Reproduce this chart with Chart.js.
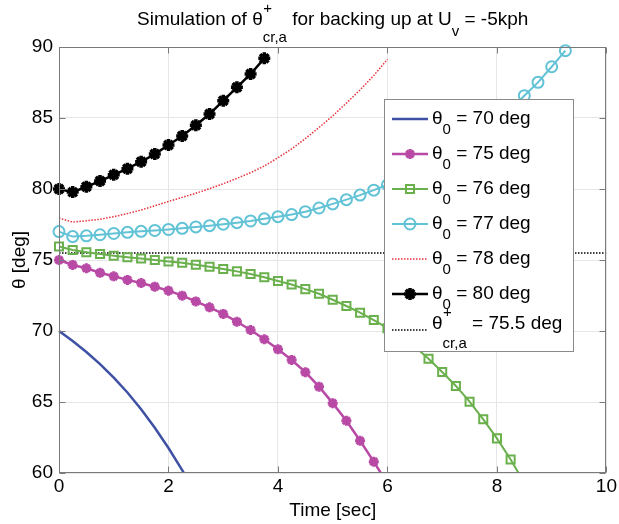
<!DOCTYPE html>
<html>
<head>
<meta charset="utf-8">
<script src="https://cdn.jsdelivr.net/npm/chart.js@4/dist/chart.umd.min.js"></script>
<style>
  html, body { margin: 0; padding: 0; background: #fff; }
  #wrap { width: 619px; height: 524px; }
</style>
</head>
<body>
<div id="wrap"><canvas id="thetaChart" width="619" height="524"></canvas></div>
<script>
  // Time samples [sec]
  const time = [0, 0.25, 0.5, 0.75, 1, 1.25, 1.5, 1.75, 2, 2.25, 2.5, 2.75, 3, 3.25, 3.5, 3.75,
    4, 4.25, 4.5, 4.75, 5, 5.25, 5.5, 5.75, 6, 6.25, 6.5, 6.75, 7, 7.25, 7.5, 7.75,
    8, 8.25, 8.5, 8.75, 9, 9.25];

  // theta [deg] for each initial angle
  const theta70 = [70, 69.3, 68.52, 67.67, 66.72, 65.67, 64.49, 63.19, 61.76, 60.21, 58.53];
  const theta75 = [75, 74.65, 74.42, 74.1, 73.85, 73.6, 73.38, 73.12, 72.84, 72.49, 72.08, 71.67,
    71.2, 70.65, 70.07, 69.42, 68.71, 67.96, 67.1, 66.08, 64.92, 63.68, 62.27, 60.8, 59.25];
  const theta76 = [75.95, 75.7, 75.55, 75.42, 75.3, 75.2, 75.1, 75.0, 74.9, 74.8, 74.67, 74.53,
    74.37, 74.2, 74.01, 73.78, 73.52, 73.27, 72.95, 72.62, 72.2, 71.76, 71.29, 70.77,
    70.2, 69.6, 68.9, 68.05, 67.11, 66.13, 65.02, 63.78, 62.44, 60.95, 59.3];
  const theta77 = [77, 76.65, 76.7, 76.78, 76.87, 76.95, 77.02, 77.08, 77.15, 77.23, 77.33, 77.42,
    77.52, 77.63, 77.75, 77.9, 78.05, 78.2, 78.4, 78.66, 78.95, 79.25, 79.57, 79.92,
    80.3, 80.7, 81.14, 81.62, 82.14, 82.71, 83.34, 84.02, 84.77, 85.62, 86.57, 87.51, 88.61, 89.74];
  const theta78 = [77.95, 77.67, 77.76, 77.87, 78.05, 78.27, 78.52, 78.82, 79.12, 79.41, 79.7, 80.02,
    80.37, 80.75, 81.15, 81.62, 82.2, 82.82, 83.55, 84.33, 85.15, 86.05, 86.98, 88.0, 89.13];
  const theta80 = [80, 79.78, 80.16, 80.56, 81.0, 81.43, 81.92, 82.46, 83.1, 83.73, 84.49, 85.28,
    86.22, 87.16, 88.1, 89.2];
  const thetaCrit = 75.5;

  const initialAngles = ['70', '75', '76', '77', '78', '80'];
  const xRange = [0, 10];
  const yRange = [60, 90];

  const FONT = '"Liberation Sans", Arial, Helvetica, sans-serif';

  const toPoints = vals => vals.map((v, i) => ({ x: time[i], y: v }));

  const series = [
    { vals: theta70, color: '#3f51a5', width: 2.5, style: false, radius: 0, pbw: 0 },
    { vals: theta75, color: '#b84aa6', width: 2.5, style: 'star', radius: 5, pbw: 3 },
    { vals: theta76, color: '#6ab04c', width: 2, style: 'rect', radius: 5.7, pbw: 2 },
    { vals: theta77, color: '#62c2d6', width: 2, style: 'circle', radius: 5.5, pbw: 2 },
    { vals: theta78, color: '#e8323c', width: 1.5, style: false, radius: 0, pbw: 0, dash: [1.5, 1.5] },
    { vals: theta80, color: '#000000', width: 2.5, style: 'star', radius: 6, pbw: 3.5 }
  ];

  const datasets = series.map((s, i) => ({
    label: 'theta0 = ' + initialAngles[i] + ' deg',
    data: toPoints(s.vals),
    borderColor: s.color,
    borderWidth: s.width,
    borderDash: s.dash || [],
    pointStyle: s.style,
    pointRadius: s.radius,
    pointBorderWidth: s.pbw,
    pointBorderColor: s.color,
    pointBackgroundColor: 'rgba(0,0,0,0)',
    tension: 0,
    fill: false,
    clip: { left: 8, top: 8, right: 0, bottom: 0 }
  }));
  datasets.push({
    label: 'crit',
    data: [{ x: xRange[0], y: thetaCrit }, { x: xRange[1], y: thetaCrit }],
    borderColor: '#000',
    borderWidth: 1.5,
    borderDash: [1.5, 1.5],
    pointRadius: 0,
    tension: 0,
    fill: false
  });

  // text with sub / superscripts, parts: {t} or {sub, sup}
  function rich(ctx, parts, x, y, o, draw) {
    let cx = x;
    parts.forEach(p => {
      if (p.t !== undefined) {
        ctx.font = o.main + 'px ' + FONT;
        if (draw) ctx.fillText(p.t, cx, y);
        cx += ctx.measureText(p.t).width;
      } else {
        ctx.font = o.small + 'px ' + FONT;
        let w = 0;
        if (p.sup) {
          if (draw) ctx.fillText(p.sup, cx + 0.5, y + o.supDy);
          w = Math.max(w, ctx.measureText(p.sup).width + 0.5);
        }
        if (p.sub) {
          const dy = p.sup ? o.stackSubDy : o.subDy;
          if (draw) ctx.fillText(p.sub, cx, y + dy);
          w = Math.max(w, ctx.measureText(p.sub).width);
        }
        cx += w;
      }
    });
    return cx - x;
  }

  function marker(ctx, style, r, x, y) {
    ctx.beginPath();
    if (style === 'circle') {
      ctx.arc(x, y, r, 0, Math.PI * 2);
    } else if (style === 'rect') {
      const s = Math.SQRT1_2 * r;
      ctx.rect(x - s, y - s, 2 * s, 2 * s);
    } else if (style === 'star') {
      for (let k = 0; k < 4; k++) {
        const a = k * Math.PI / 4;
        ctx.moveTo(x - Math.cos(a) * r, y - Math.sin(a) * r);
        ctx.lineTo(x + Math.cos(a) * r, y + Math.sin(a) * r);
      }
    }
    ctx.stroke();
  }

  const overlay = {
    id: 'overlay',
    afterDatasetsDraw(chart) {
      const ctx = chart.ctx;
      const a = chart.chartArea;
      const xs = chart.scales.x, ys = chart.scales.y;
      ctx.save();

      // legend box
      const lx = 384, ly = 99, lw = 189, lh = 252;
      ctx.fillStyle = '#fff';
      ctx.fillRect(lx, ly, lw, lh);
      ctx.strokeStyle = '#8a8a8a';
      ctx.lineWidth = 1;
      ctx.strokeRect(lx + 0.5, ly + 0.5, lw, lh);

      const o = { main: 19, small: 15, supDy: -12, subDy: 10, stackSubDy: 19 };
      ctx.textBaseline = 'alphabetic';
      ctx.textAlign = 'left';
      const rows = series.length + 1;
      for (let i = 0; i < rows; i++) {
        const last = i === series.length;
        const lineY = last ? 330 : 119 + 35 * i;
        const baseY = last ? 328.5 : 123.5 + 35 * i;
        const s = last ? { color: '#000', width: 1.5, dash: [1.5, 1.5], style: false } : series[i];
        ctx.strokeStyle = s.color;
        ctx.lineWidth = s.width;
        ctx.setLineDash(s.dash || []);
        ctx.beginPath();
        ctx.moveTo(392, lineY);
        ctx.lineTo(428, lineY);
        ctx.stroke();
        ctx.setLineDash([]);
        if (s.style) {
          ctx.lineWidth = s.pbw;
          marker(ctx, s.style, s.radius, 410, lineY);
        }
        ctx.fillStyle = '#000';
        const parts = last
          ? [{ t: 'θ' }, { sup: '+', sub: 'cr,a' }, { t: ' = ' + thetaCrit + ' deg' }]
          : [{ t: 'θ' }, { sub: '0' }, { t: ' = ' + initialAngles[i] + ' deg' }];
        rich(ctx, parts, 432, baseY, o, true);
      }

      // axes box and inward ticks
      ctx.strokeStyle = '#7a7a7a';
      ctx.lineWidth = 1;
      const L = Math.round(a.left) + 0.5, R = Math.round(a.right) - 0.5;
      const T = Math.round(a.top) + 0.5, B = Math.round(a.bottom) - 0.5;
      ctx.strokeRect(L, T, R - L, B - T);
      ctx.beginPath();
      xs.ticks.forEach(t => {
        const px = Math.round(xs.getPixelForValue(t.value)) + 0.5;
        ctx.moveTo(px, B); ctx.lineTo(px, B - 6);
        ctx.moveTo(px, T); ctx.lineTo(px, T + 6);
      });
      ys.ticks.forEach(t => {
        const py = Math.round(ys.getPixelForValue(t.value)) + 0.5;
        ctx.moveTo(L, py); ctx.lineTo(L + 6, py);
        ctx.moveTo(R, py); ctx.lineTo(R - 6, py);
      });
      ctx.stroke();
      ctx.restore();
    },
    afterDraw(chart) {
      const ctx = chart.ctx;
      const a = chart.chartArea;
      const cx = (a.left + a.right) / 2;
      ctx.save();
      ctx.fillStyle = '#000';
      ctx.textAlign = 'left';
      ctx.textBaseline = 'alphabetic';

      // title
      const o = { main: 19, small: 15, supDy: -12, subDy: 11, stackSubDy: 17 };
      const title = [{ t: 'Simulation of θ' }, { sup: '+', sub: 'cr,a' },
        { t: ' for backing up at U' }, { sub: 'v' }, { t: ' = -5kph' }];
      const w = rich(ctx, title, 0, 0, o, false);
      rich(ctx, title, cx - w / 2, 25, o, true);

      // axis labels
      ctx.font = '19px ' + FONT;
      ctx.textAlign = 'center';
      ctx.textBaseline = 'middle';
      ctx.fillText('Time [sec]', cx, 511);
      ctx.translate(19.5, (a.top + a.bottom) / 2);
      ctx.rotate(-Math.PI / 2);
      ctx.fillText('θ [deg]', 0, 0);
      ctx.restore();
    }
  };

  const ctx = document.getElementById('thetaChart').getContext('2d');
  const thetaChart = new Chart(ctx, {
    type: 'line',
    data: { datasets: datasets },
    options: {
      responsive: false,
      animation: false,
      events: [],
      layout: { padding: { left: 0, right: 9, top: 47, bottom: 0 } },
      plugins: {
        legend: { display: false },
        title: { display: false },
        tooltip: { enabled: false }
      },
      scales: {
        x: {
          type: 'linear',
          min: xRange[0],
          max: xRange[1],
          ticks: { stepSize: 2, padding: 2, color: '#000', maxRotation: 0, font: { family: FONT, size: 19 } },
          grid: { color: '#e6e6e6', drawTicks: false },
          border: { display: false },
          afterFit: s => { s.height = 51; }
        },
        y: {
          min: yRange[0],
          max: yRange[1],
          ticks: { stepSize: 5, padding: 6, color: '#000', font: { family: FONT, size: 19 } },
          grid: { color: '#e6e6e6', drawTicks: false },
          border: { display: false },
          afterFit: s => { s.width = 59; }
        }
      }
    },
    plugins: [overlay]
  });
</script>
</body>
</html>
